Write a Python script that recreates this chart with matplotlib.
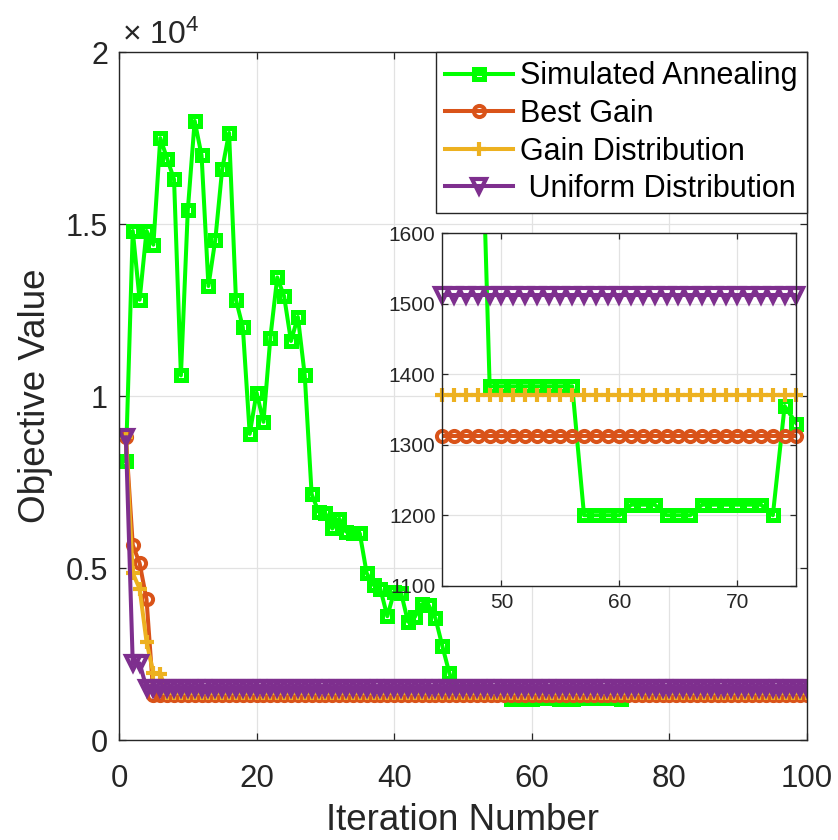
import matplotlib
matplotlib.use('Agg')
import matplotlib.pyplot as plt
from matplotlib.ticker import FuncFormatter, FixedLocator

plt.rcParams['font.family'] = ['Liberation Sans', 'DejaVu Sans']
plt.rcParams['mathtext.fontset'] = 'custom'
plt.rcParams['mathtext.rm'] = 'Liberation Sans'
plt.rcParams['mathtext.it'] = 'Liberation Sans:italic'

# ---------------- data ----------------
iterations = list(range(1, 101))

simulated_annealing = [
    8100, 14800, 12800, 14800, 14400, 17500, 16900, 16300, 10600, 15400,
    18000, 17000, 13200, 14550, 16600, 17650, 12800, 12000, 8900, 10100,
    9250, 11700, 13450, 12900, 11600, 12300, 10600, 7150, 6640, 6590,
    6150, 6440, 6060, 6030, 6010, 4850, 4510, 4380, 3600, 4310,
    4280, 3440, 3580, 3950, 3920, 3540, 2730, 1960, 1383, 1383,
    1383, 1383, 1383, 1383, 1383, 1383, 1200, 1200, 1200, 1200,
    1215, 1215, 1215, 1200, 1200, 1200, 1215, 1215, 1215, 1215,
    1215, 1215, 1200, 1355, 1330, 1330, 1330, 1330, 1330, 1330,
    1330, 1330, 1330, 1330, 1330, 1330, 1330, 1330, 1330, 1330,
    1330, 1330, 1330, 1330, 1330, 1330, 1330, 1330, 1330, 1330,
]

best_gain = [
    8800, 5670, 5140, 4090, 1312, 1312, 1312, 1312, 1312, 1312,
    1312, 1312, 1312, 1312, 1312, 1312, 1312, 1312, 1312, 1312,
    1312, 1312, 1312, 1312, 1312, 1312, 1312, 1312, 1312, 1312,
    1312, 1312, 1312, 1312, 1312, 1312, 1312, 1312, 1312, 1312,
    1312, 1312, 1312, 1312, 1312, 1312, 1312, 1312, 1312, 1312,
    1312, 1312, 1312, 1312, 1312, 1312, 1312, 1312, 1312, 1312,
    1312, 1312, 1312, 1312, 1312, 1312, 1312, 1312, 1312, 1312,
    1312, 1312, 1312, 1312, 1312, 1312, 1312, 1312, 1312, 1312,
    1312, 1312, 1312, 1312, 1312, 1312, 1312, 1312, 1312, 1312,
    1312, 1312, 1312, 1312, 1312, 1312, 1312, 1312, 1312, 1312,
]

gain_distribution = [
    8800, 4850, 4400, 2860, 1940, 1920, 1370, 1370, 1370, 1370,
    1370, 1370, 1370, 1370, 1370, 1370, 1370, 1370, 1370, 1370,
    1370, 1370, 1370, 1370, 1370, 1370, 1370, 1370, 1370, 1370,
    1370, 1370, 1370, 1370, 1370, 1370, 1370, 1370, 1370, 1370,
    1370, 1370, 1370, 1370, 1370, 1370, 1370, 1370, 1370, 1370,
    1370, 1370, 1370, 1370, 1370, 1370, 1370, 1370, 1370, 1370,
    1370, 1370, 1370, 1370, 1370, 1370, 1370, 1370, 1370, 1370,
    1370, 1370, 1370, 1370, 1370, 1370, 1370, 1370, 1370, 1370,
    1370, 1370, 1370, 1370, 1370, 1370, 1370, 1370, 1370, 1370,
    1370, 1370, 1370, 1370, 1370, 1370, 1370, 1370, 1370, 1370,
]

uniform_distribution = [
    8800, 2230, 2230, 1512, 1512, 1512, 1512, 1512, 1512, 1512,
    1512, 1512, 1512, 1512, 1512, 1512, 1512, 1512, 1512, 1512,
    1512, 1512, 1512, 1512, 1512, 1512, 1512, 1512, 1512, 1512,
    1512, 1512, 1512, 1512, 1512, 1512, 1512, 1512, 1512, 1512,
    1512, 1512, 1512, 1512, 1512, 1512, 1512, 1512, 1512, 1512,
    1512, 1512, 1512, 1512, 1512, 1512, 1512, 1512, 1512, 1512,
    1512, 1512, 1512, 1512, 1512, 1512, 1512, 1512, 1512, 1512,
    1512, 1512, 1512, 1512, 1512, 1512, 1512, 1512, 1512, 1512,
    1512, 1512, 1512, 1512, 1512, 1512, 1512, 1512, 1512, 1512,
    1512, 1512, 1512, 1512, 1512, 1512, 1512, 1512, 1512, 1512,
]

series_labels = ['Simulated Annealing', 'Best Gain', 'Gain Distribution', ' Uniform Distribution']
main_xticks = [0, 20, 40, 60, 80, 100]
main_yticks = [0, 5000, 10000, 15000, 20000]
inset_xticks = [50, 60, 70]
inset_yticks = [1100, 1200, 1300, 1400, 1500, 1600]

# ---------------- style ----------------
colors = ['#00FF00', '#D95319', '#EDB120', '#7E2F8E']
styles = [
    dict(marker='s', ms=6.8, mew=3.6),
    dict(marker='o', ms=8.0, mew=2.9),
    dict(marker='+', ms=9.5, mew=3.0),
    dict(marker='v', ms=9.5, mew=3.0),
]
LW = 2.9
AXC = '#262626'
GRIDC = '#e2e2e2'

data = [simulated_annealing, best_gain, gain_distribution, uniform_distribution]

fig = plt.figure(figsize=(8.38, 8.40), dpi=100)
ax = fig.add_axes([0.142, 0.119, 0.821, 0.819])

for y, c, st, lab in zip(data, colors, styles, series_labels):
    ax.plot(iterations, y, color=c, lw=LW, mfc='none', mec=c, label=lab, **st)

ax.set_xlim(0, 100)
ax.set_ylim(0, 20000)
ax.xaxis.set_major_locator(FixedLocator(main_xticks))
ax.yaxis.set_major_locator(FixedLocator(main_yticks))
ax.yaxis.set_major_formatter(FuncFormatter(lambda v, p: f'{v / 1e4:g}'))
ax.grid(True, color=GRIDC, lw=0.9)
ax.set_axisbelow(True)
ax.tick_params(direction='in', length=5, width=0.9, colors=AXC, labelsize=22,
               top=True, right=True, pad=8)
ax.tick_params(axis='x', pad=17, labelsize=22.5)
for s in ax.spines.values():
    s.set_color(AXC)
    s.set_linewidth(1.0)
ax.set_xlabel('Iteration Number', fontsize=26.5, color=AXC, labelpad=7)
ax.set_ylabel('Objective Value', fontsize=26.5, color=AXC, labelpad=9)
ax.text(0.004, 1.002, '× 10$^{4}$', transform=ax.transAxes,
        fontsize=23, color=AXC, ha='left', va='bottom')

leg = ax.legend(loc='upper right', bbox_to_anchor=(1.0, 1.0), borderaxespad=0.0,
                fontsize=22, frameon=True, fancybox=False, framealpha=1.0,
                edgecolor=AXC, handlelength=2.2, handletextpad=0.25,
                labelspacing=0.25, borderpad=0.3, numpoints=1)
leg.get_frame().set_linewidth(1.0)

# ---------------- inset ----------------
axin = fig.add_axes([0.528, 0.3027, 0.4224, 0.4195])
x0, x1, y0, y1 = 45, 75, 1100, 1600
for y, c, st in zip(data, colors, styles):
    axin.plot(iterations, y, color=c, lw=LW)
    xs = [xi for xi, yi in zip(iterations, y) if x0 <= xi <= x1 and y0 <= yi <= y1]
    ys = [yi for xi, yi in zip(iterations, y) if x0 <= xi <= x1 and y0 <= yi <= y1]
    axin.plot(xs, ys, ls='none', mfc='none', mec=c, clip_on=False, **st)
axin.set_xlim(x0, x1)
axin.set_ylim(y0, y1)
axin.xaxis.set_major_locator(FixedLocator(inset_xticks))
axin.yaxis.set_major_locator(FixedLocator(inset_yticks))
axin.grid(True, color=GRIDC, lw=0.9)
axin.set_axisbelow(True)
axin.tick_params(direction='in', length=4, width=0.9, colors=AXC, labelsize=15,
                 top=True, right=True, pad=5)
for s in axin.spines.values():
    s.set_color(AXC)
    s.set_linewidth(1.0)

fig.savefig('out.png', dpi=100)
